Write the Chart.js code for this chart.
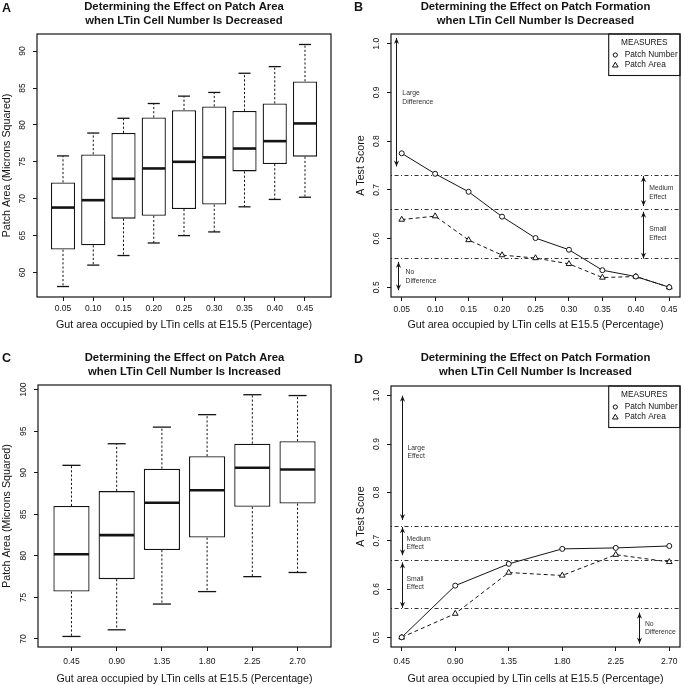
<!DOCTYPE html>
<html><head><meta charset="utf-8">
<script src="https://cdn.jsdelivr.net/npm/chart.js@4/dist/chart.umd.min.js"></script>
<style>
html,body{margin:0;padding:0;background:#fff;}
#wrap{position:relative;width:685px;height:685px;overflow:hidden;background:#fff;}
canvas{position:absolute;}
</style></head><body>
<div id="wrap">
<canvas id="cA" width="342" height="342" style="left:0;top:0"></canvas>
<canvas id="cB" width="340" height="342" style="left:345px;top:0"></canvas>
<canvas id="cC" width="342" height="334" style="left:0;top:351px"></canvas>
<canvas id="cD" width="340" height="334" style="left:345px;top:351px"></canvas>
</div>
<script>
// ---------------- DATA ----------------
// Panel A: patch area, LTin decreased (boxplots)
const decCats = ['0.05','0.10','0.15','0.20','0.25','0.30','0.35','0.40','0.45'];
const decLo  = [58.1, 61.0, 62.3, 64.0, 65.0, 65.5, 68.9, 69.9, 70.2];
const decQ1  = [63.1, 63.7, 67.3, 67.7, 68.6, 69.2, 73.7, 74.7, 75.7];
const decMed = [68.8, 69.8, 72.7, 74.1, 75.0, 75.6, 76.8, 77.8, 80.2];
const decQ3  = [72.2, 76.0, 78.9, 81.0, 82.0, 82.5, 81.9, 82.9, 85.9];
const decHi  = [75.8, 78.9, 80.9, 82.9, 83.9, 84.4, 87.0, 87.9, 90.9];
const decAreaTicks = [60, 65, 70, 75, 80, 85, 90];

// Panel C: patch area, LTin increased (boxplots)
const incCats = ['0.45','0.90','1.35','1.80','2.25','2.70'];
const incLo  = [70.3, 71.1, 74.2, 75.7, 77.5, 78.0];
const incQ1  = [75.7, 77.2, 80.7, 82.2, 85.9, 86.3];
const incMed = [80.2, 82.5, 86.4, 87.9, 90.6, 90.4];
const incQ3  = [86.0, 87.8, 90.5, 92.0, 93.5, 93.8];
const incHi  = [90.9, 93.5, 95.5, 97.0, 99.4, 99.3];
const incAreaTicks = [70, 75, 80, 85, 90, 95, 100];

// Panel B: A test scores, LTin decreased
const decX = [0.05, 0.10, 0.15, 0.20, 0.25, 0.30, 0.35, 0.40, 0.45];
const decPatchNumber = [0.775, 0.733, 0.696, 0.645, 0.601, 0.577, 0.535, 0.522, 0.500];
const decPatchArea   = [0.639, 0.646, 0.597, 0.566, 0.560, 0.548, 0.520, 0.522, 0.500];

// Panel D: A test scores, LTin increased
const incX = [0.45, 0.90, 1.35, 1.80, 2.25, 2.70];
const incPatchNumber = [0.500, 0.607, 0.652, 0.683, 0.685, 0.689];
const incPatchArea   = [0.500, 0.549, 0.634, 0.628, 0.671, 0.656];

const scoreTicks = [0.5, 0.6, 0.7, 0.8, 0.9, 1.0];
const effectThresholds = [0.56, 0.66, 0.73];
const seriesNames = ['Patch Number', 'Patch Area'];
const legendTitle = 'MEASURES';
const xAxisTitle = 'Gut area occupied by LTin cells at E15.5 (Percentage)';

// ---------------- STYLE / HELPERS ----------------
const FONT = "'Liberation Sans', Arial, Helvetica, sans-serif";
const INK = '#141414';
Chart.defaults.font.family = FONT;
Chart.defaults.color = INK;

function decorPlugin(title, letter, letterX, letterY) {
  return {
    id: 'decor',
    afterDraw(chart) {
      const ctx = chart.ctx, a = chart.chartArea, ys = chart.scales.y;
      ctx.save();
      ctx.strokeStyle = INK; ctx.lineWidth = 1.2;
      ctx.strokeRect(a.left, a.top, a.right - a.left, a.bottom - a.top);
      ctx.fillStyle = INK;
      ctx.font = '8.5px ' + FONT;
      ctx.textAlign = 'center'; ctx.textBaseline = 'middle';
      ys.ticks.forEach(t => {
        const py = ys.getPixelForValue(t.value);
        ctx.save(); ctx.translate(a.left - 14, py); ctx.rotate(-Math.PI / 2);
        ctx.fillText(t.label, 0, 0); ctx.restore();
      });
      ctx.font = 'bold 11.3px ' + FONT;
      const cx = (a.left + a.right) / 2;
      title.forEach((line, i) => ctx.fillText(line, cx, 7.3 + i * 13.6));
      ctx.font = 'bold 12.5px ' + FONT; ctx.textAlign = 'left';
      ctx.fillText(letter, letterX, letterY);
      ctx.restore();
    }
  };
}

function whiskerPlugin(lo, q1, med, q3, hi) {
  return {
    id: 'whiskers',
    afterDatasetsDraw(chart) {
      const ctx = chart.ctx, xs = chart.scales.x, ys = chart.scales.y;
      const seg = (x1, y1, x2, y2) => { ctx.beginPath(); ctx.moveTo(x1, y1); ctx.lineTo(x2, y2); ctx.stroke(); };
      ctx.save(); ctx.strokeStyle = INK;
      med.forEach((m, i) => {
        const c = i + 1;
        const xc = xs.getPixelForValue(c);
        const halfBox = (xs.getPixelForValue(c + 0.4) - xs.getPixelForValue(c - 0.4)) / 2;
        const halfCap = halfBox / 2;
        ctx.setLineDash([2.2, 2]); ctx.lineWidth = 1;
        seg(xc, ys.getPixelForValue(q3[i]), xc, ys.getPixelForValue(hi[i]));
        seg(xc, ys.getPixelForValue(q1[i]), xc, ys.getPixelForValue(lo[i]));
        ctx.setLineDash([]); ctx.lineWidth = 1.3;
        seg(xc - halfCap, ys.getPixelForValue(hi[i]), xc + halfCap, ys.getPixelForValue(hi[i]));
        seg(xc - halfCap, ys.getPixelForValue(lo[i]), xc + halfCap, ys.getPixelForValue(lo[i]));
        ctx.lineWidth = 2.6;
        seg(xc - halfBox + 0.6, ys.getPixelForValue(m), xc + halfBox - 0.6, ys.getPixelForValue(m));
      });
      ctx.restore();
    }
  };
}

function boxChart(id, cats, lo, q1, med, q3, hi, yTicks, yMin, yMax, title, letter, lx, ly, L) {
  const n = cats.length;
  new Chart(document.getElementById(id), {
    type: 'bar',
    data: { datasets: [{
      data: cats.map((c, i) => ({ x: i + 1, y: [q1[i], q3[i]] })),
      backgroundColor: '#ffffff', borderColor: INK, borderWidth: 1.3, borderSkipped: false,
      categoryPercentage: 1, barPercentage: 0.8
    }]},
    options: {
      responsive: false, animation: false, events: [],
      layout: { padding: L.pad },
      plugins: { legend: { display: false }, tooltip: { enabled: false } },
      scales: {
        x: {
          type: 'linear', offset: false,
          min: 0.5 - 0.04 * n, max: n + 0.5 + 0.04 * n,
          afterBuildTicks: s => { s.ticks = cats.map((c, i) => ({ value: i + 1 })); },
          afterFit: s => { s.height = L.xh; },
          ticks: { autoSkip: false, maxRotation: 0, minRotation: 0, padding: L.tp, font: { size: 8.5 }, color: INK,
                   callback: v => cats[Math.round(v) - 1] },
          grid: { offset: false, drawOnChartArea: false, drawTicks: true, tickLength: 4, color: INK },
          border: { display: false },
          title: { display: true, text: xAxisTitle, font: { size: 10.7 }, color: INK, padding: { top: 0, bottom: L.tb } }
        },
        y: {
          type: 'linear', min: yMin, max: yMax, beginAtZero: false,
          afterBuildTicks: s => { s.ticks = yTicks.map(v => ({ value: v })); },
          afterFit: s => { s.width = L.yw; },
          ticks: { display: false, callback: v => String(v) },
          grid: { drawOnChartArea: false, drawTicks: true, tickLength: 4, color: INK },
          border: { display: false },
          title: { display: true, text: 'Patch Area (Microns Squared)', font: { size: 10.7 }, color: INK, padding: { top: 0.5, bottom: 0 } }
        }
      }
    },
    plugins: [whiskerPlugin(lo, q1, med, q3, hi), decorPlugin(title, letter, lx, ly)]
  });
}

function annotPlugin(annots) {
  return {
    id: 'annot',
    beforeDatasetsDraw(chart) {
      const ctx = chart.ctx, a = chart.chartArea, ys = chart.scales.y;
      ctx.save(); ctx.strokeStyle = '#333'; ctx.lineWidth = 1; ctx.setLineDash([1, 2.5, 4, 2.5]);
      effectThresholds.forEach(v => {
        const py = Math.round(ys.getPixelForValue(v)) + 0.5;
        ctx.beginPath(); ctx.moveTo(a.left, py); ctx.lineTo(a.right, py); ctx.stroke();
      });
      ctx.restore();
    },
    afterDatasetsDraw(chart) {
      const ctx = chart.ctx, a = chart.chartArea, xs = chart.scales.x, ys = chart.scales.y;
      ctx.save();
      ctx.strokeStyle = INK; ctx.fillStyle = INK; ctx.lineWidth = 1;
      const head = (x, y, dir) => {
        ctx.beginPath(); ctx.moveTo(x - 2.6, y - dir * 6); ctx.lineTo(x, y); ctx.lineTo(x + 2.6, y - dir * 6);
        ctx.lineTo(x, y - dir * 4); ctx.closePath(); ctx.fill();
      };
      annots.forEach(an => {
        const px = Math.round(xs.getPixelForValue(an.x)) + 0.5;
        const p1 = ys.getPixelForValue(an.y1), p2 = ys.getPixelForValue(an.y2);
        ctx.beginPath(); ctx.moveTo(px, p1); ctx.lineTo(px, p2); ctx.stroke();
        head(px, p2, -1); head(px, p1, 1);
        ctx.font = '6.8px ' + FONT; ctx.fillStyle = '#333'; ctx.textAlign = 'left'; ctx.textBaseline = 'middle';
        const tx = xs.getPixelForValue(an.tx), ty = ys.getPixelForValue(an.ty);
        an.text.forEach((t, i) => ctx.fillText(t, tx, ty + (i - 0.5) * 8.6));
        ctx.fillStyle = INK;
      });
      // legend
      const bw = 71.3, bh = 41.5, bx = a.right - bw, by = a.top;
      ctx.fillStyle = '#fff'; ctx.fillRect(bx, by, bw, bh);
      ctx.strokeStyle = INK; ctx.lineWidth = 1.1; ctx.strokeRect(bx, by, bw, bh);
      ctx.fillStyle = INK; ctx.font = '8.3px ' + FONT; ctx.textBaseline = 'middle';
      ctx.textAlign = 'center'; ctx.fillText(legendTitle, bx + bw / 2, by + 8.7);
      ctx.textAlign = 'left';
      chart.data.datasets.forEach((ds, i) => {
        const yy = by + 21 + i * 10, sx = bx + 6.6;
        ctx.lineWidth = 1;
        ctx.beginPath();
        if (ds.pointStyle === 'triangle') {
          ctx.moveTo(sx, yy - 2.8); ctx.lineTo(sx + 2.8, yy + 2); ctx.lineTo(sx - 2.8, yy + 2); ctx.closePath();
        } else {
          ctx.arc(sx, yy, 2.1, 0, Math.PI * 2);
        }
        ctx.stroke();
        ctx.fillText(ds.label, bx + 16, yy);
      });
      ctx.restore();
    }
  };
}

function scoreChart(id, xv, pn, pa, title, letter, lx, ly, annots, L) {
  const span = xv[xv.length - 1] - xv[0];
  new Chart(document.getElementById(id), {
    type: 'line',
    data: { datasets: [
      { label: seriesNames[0], data: xv.map((x, i) => ({ x, y: pn[i] })),
        borderColor: INK, borderWidth: 1, tension: 0, fill: false,
        pointStyle: 'circle', pointRadius: 2.5, pointBorderWidth: 1,
        pointBackgroundColor: '#fff', pointBorderColor: INK },
      { label: seriesNames[1], data: xv.map((x, i) => ({ x, y: pa[i] })),
        borderColor: INK, borderWidth: 1, borderDash: [4, 3], tension: 0, fill: false,
        pointStyle: 'triangle', pointRadius: 3.3, pointBorderWidth: 1,
        pointBackgroundColor: '#fff', pointBorderColor: INK }
    ]},
    options: {
      responsive: false, animation: false, events: [],
      layout: { padding: L.pad },
      plugins: { legend: { display: false }, tooltip: { enabled: false } },
      scales: {
        x: {
          type: 'linear', offset: false,
          min: xv[0] - 0.04 * span, max: xv[xv.length - 1] + 0.04 * span,
          afterBuildTicks: s => { s.ticks = xv.map(v => ({ value: v })); },
          afterFit: s => { s.height = L.xh; },
          ticks: { autoSkip: false, maxRotation: 0, minRotation: 0, padding: L.tp, font: { size: 8.5 }, color: INK,
                   callback: v => v.toFixed(2) },
          grid: { offset: false, drawOnChartArea: false, drawTicks: true, tickLength: 4, color: INK },
          border: { display: false },
          title: { display: true, text: xAxisTitle, font: { size: 10.7 }, color: INK, padding: { top: 0, bottom: L.tb } }
        },
        y: {
          type: 'linear', min: 0.48, max: 1.02, beginAtZero: false,
          afterBuildTicks: s => { s.ticks = scoreTicks.map(v => ({ value: v })); },
          afterFit: s => { s.width = L.yw; },
          ticks: { display: false, callback: v => v.toFixed(1) },
          grid: { drawOnChartArea: false, drawTicks: true, tickLength: 4, color: INK },
          border: { display: false },
          title: { display: true, text: 'A Test Score', font: { size: 10.7 }, color: INK, padding: { top: 0.5, bottom: 0 } }
        }
      }
    },
    plugins: [annotPlugin(annots), decorPlugin(title, letter, lx, ly)]
  });
}

// annotation placement (data coordinates)
const annotB = [
  { x: 0.041, y1: 0.748, y2: 1.012, text: ['Large', 'Difference'], tx: 0.051, ty: 0.889 },
  { x: 0.411, y1: 0.667, y2: 0.728, text: ['Medium', 'Effect'], tx: 0.420, ty: 0.6945 },
  { x: 0.411, y1: 0.559, y2: 0.655, text: ['Small', 'Effect'], tx: 0.420, ty: 0.610 },
  { x: 0.045, y1: 0.494, y2: 0.552, text: ['No', 'Difference'], tx: 0.0558, ty: 0.5214 }
];
const annotD = [
  { x: 0.45, y1: 0.743, y2: 1.0, text: ['Large', 'Effect'], tx: 0.499, ty: 0.8834 },
  { x: 0.45, y1: 0.670, y2: 0.728, text: ['Medium', 'Effect'], tx: 0.491, ty: 0.6947 },
  { x: 0.45, y1: 0.561, y2: 0.655, text: ['Small', 'Effect'], tx: 0.491, ty: 0.6121 },
  { x: 2.445, y1: 0.487, y2: 0.551, text: ['No', 'Difference'], tx: 2.495, ty: 0.519 }
];

boxChart('cA', decCats, decLo, decQ1, decMed, decQ3, decHi, decAreaTicks, 56.68, 92.32,
  ['Determining the Effect on Patch Area', 'when LTin Cell Number Is Decreased'], 'A', 2, 8.3,
  { pad: { left: 0, top: 34, right: 11, bottom: 0 }, yw: 37, xh: 45, tp: 3, tb: 10.6 });
scoreChart('cB', decX, decPatchNumber, decPatchArea,
  ['Determining the Effect on Patch Formation', 'when LTin Cell Number Is Decreased'], 'B', 9, 8, annotB,
  { pad: { left: 9, top: 34, right: 3, bottom: 0 }, yw: 37, xh: 45, tp: 3.5, tb: 10.6 });
boxChart('cC', incCats, incLo, incQ1, incMed, incQ3, incHi, incAreaTicks, 69.03, 100.57,
  ['Determining the Effect on Patch Area', 'when LTin Cell Number Is Increased'], 'C', 2, 7.3,
  { pad: { left: 0, top: 34, right: 11, bottom: 0 }, yw: 38, xh: 38, tp: 6, tb: 0 });
scoreChart('cD', incX, incPatchNumber, incPatchArea,
  ['Determining the Effect on Patch Formation', 'when LTin Cell Number Is Increased'], 'D', 9, 9, annotD,
  { pad: { left: 9, top: 35, right: 3, bottom: 0 }, yw: 37, xh: 38, tp: 6, tb: 0 });
</script>
</body></html>
